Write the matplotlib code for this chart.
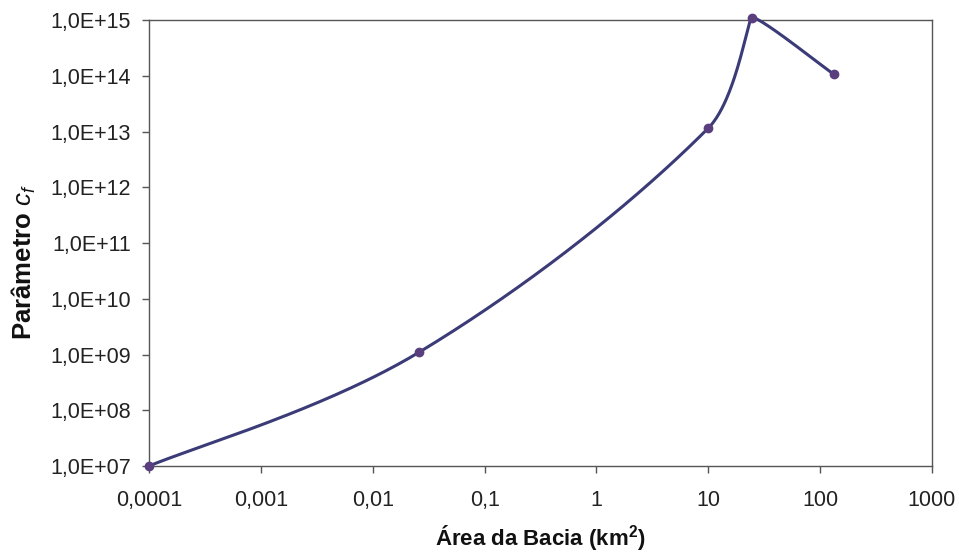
import numpy as np
import matplotlib
matplotlib.use("Agg")
import matplotlib.pyplot as plt
from matplotlib.ticker import FixedLocator, FuncFormatter, NullLocator

# values
area_km2 = [0.0001, 0.026, 10.0, 24.5, 132.0]
param_cf = [1.0e7, 1.1e9, 1.15e13, 1.1e15, 1.07e14]

x_ticks = [0.0001, 0.001, 0.01, 0.1, 1, 10, 100, 1000]
x_labels = ["0,0001", "0,001", "0,01", "0,1", "1", "10", "100", "1000"]
y_ticks = [10.0 ** e for e in range(7, 16)]

line_col = "#3b3b78"
marker_col = "#5a3f7e"

plt.rcParams["font.family"] = ["Liberation Sans", "DejaVu Sans"]
plt.rcParams["mathtext.fontset"] = "custom"
plt.rcParams["mathtext.it"] = "Liberation Sans:italic"
plt.rcParams["mathtext.bf"] = "Liberation Sans:bold"
plt.rcParams["mathtext.rm"] = "Liberation Sans"


def smooth_line(ax, xs, ys, t_in, t_out, n=80):
    # smoothed line built in screen space (Bezier, neighbour handles)
    pts = ax.transData.transform(np.column_stack([xs, ys]))
    k = len(pts)
    out = []
    t = np.linspace(0, 1, n)[:, None]
    for i in range(k - 1):
        p0 = pts[max(i - 1, 0)]
        p1 = pts[i]
        p2 = pts[i + 1]
        p3 = pts[min(i + 2, k - 1)]
        c1 = p1 + t_out[i] * (p2 - p0) / 6
        c2 = p2 - t_in[i + 1] * (p3 - p1) / 6
        b = ((1 - t) ** 3 * p1 + 3 * (1 - t) ** 2 * t * c1
             + 3 * (1 - t) * t ** 2 * c2 + t ** 3 * p2)
        out.append(b)
    out = np.vstack(out)
    data = ax.transData.inverted().transform(out)
    return data[:, 0], data[:, 1]


fig = plt.figure(figsize=(9.59, 5.53), dpi=100)
ax = fig.add_axes([0.1554, 0.1573, 0.8164, 0.8065])

ax.set_xscale("log")
ax.set_yscale("log")
ax.set_xlim(0.0001, 1000)
ax.set_ylim(1e7, 1e15)

sx, sy = smooth_line(ax, area_km2, param_cf,
                     t_in=[1, 1, 1.3, 0.2, 1], t_out=[1, 1.2, 0.5, 0.3, 1])
ax.plot(sx, sy, color=line_col, lw=2.2, clip_on=False, zorder=3)
ax.plot(area_km2, param_cf, "o", ms=6, color=marker_col, mec=marker_col,
        clip_on=False, zorder=4)

ax.xaxis.set_major_locator(FixedLocator(x_ticks))
ax.xaxis.set_minor_locator(NullLocator())
ax.xaxis.set_major_formatter(FuncFormatter(lambda v, p: x_labels[x_ticks.index(v)] if v in x_ticks else ""))
ax.yaxis.set_major_locator(FixedLocator(y_ticks))
ax.yaxis.set_minor_locator(NullLocator())
ax.yaxis.set_major_formatter(FuncFormatter(lambda v, p: "1,0E+%02d" % round(np.log10(v))))

ax.tick_params(axis="both", which="major", direction="out", length=5, width=1,
               color="#555555", labelsize=15.5, colors="#222222")
ax.tick_params(axis="x", pad=12)
ax.tick_params(axis="y", pad=8)

for sp in ax.spines.values():
    sp.set_color("#555555")
    sp.set_linewidth(1.0)

fig.text(540 / 959, 1 - 538 / 553, "Área da Bacia (km$^\\mathbf{2}$)", fontsize=16,
         fontweight="bold", ha="center", va="center", color="#111111")
fig.text(24 / 959, 1 - 262 / 553, "Parâmetro $\\mathit{c_f}$", fontsize=18.5,
         fontweight="bold", ha="center", va="center", rotation=90, color="#111111")

fig.savefig("out.png", dpi=100)
